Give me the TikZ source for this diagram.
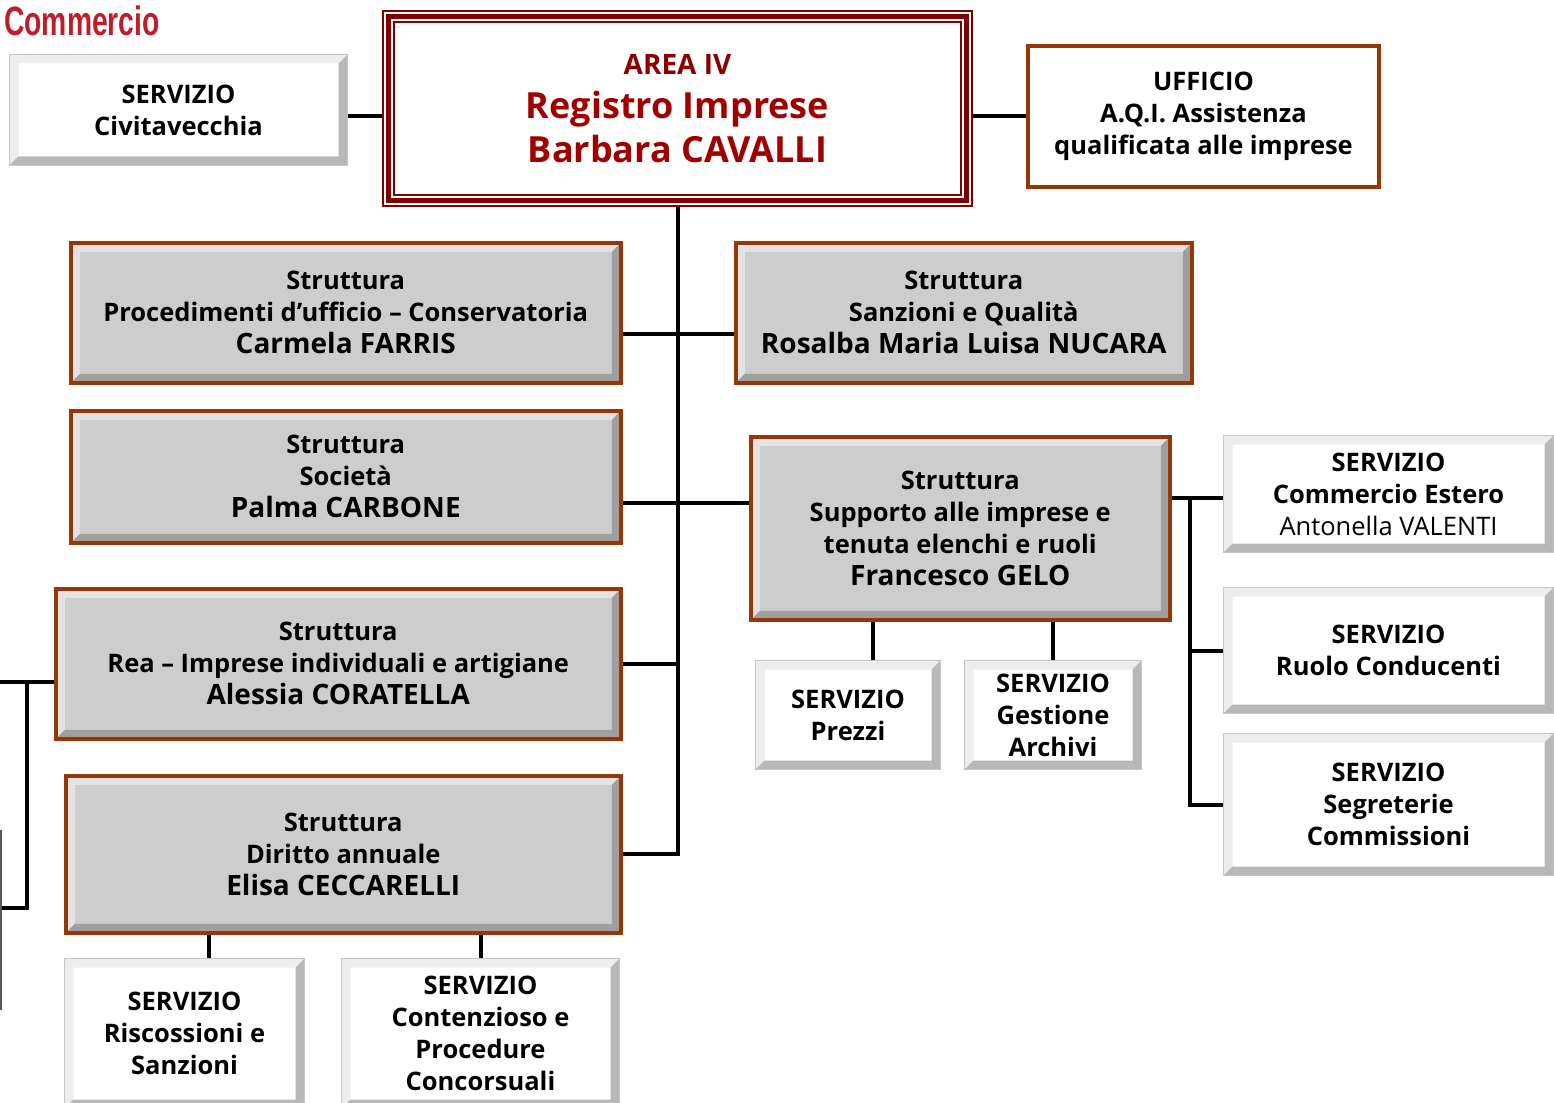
\documentclass[tikz,border=0pt]{standalone}
\usepackage{fontspec}
\setmainfont{Open Sans}
\newfontfamily\headfont{Liberation Sans}
\usepackage{tikz}
\definecolor{areared}{RGB}{128,0,0}
\definecolor{areatext}{RGB}{160,0,0}
\definecolor{boxbrown}{RGB}{150,55,10}
\definecolor{boxgray}{RGB}{205,205,205}
\definecolor{headred}{RGB}{190,30,40}

\begin{document}
\begin{tikzpicture}[x=1pt,y=-1pt,
    bevel/.style 2 args={path picture={
      \coordinate (nw) at (path picture bounding box.north west);
      \coordinate (ne) at (path picture bounding box.north east);
      \coordinate (sw) at (path picture bounding box.south west);
      \coordinate (se) at (path picture bounding box.south east);
      \fill[#1] (nw) -- (ne) -- ([shift={(-9pt,-9pt)}]ne) -- ([shift={(9pt,-9pt)}]nw) -- cycle;
      \fill[#1] (nw) -- (sw) -- ([shift={(9pt,9pt)}]sw) -- ([shift={(9pt,-9pt)}]nw) -- cycle;
      \fill[#2] (sw) -- (se) -- ([shift={(-9pt,9pt)}]se) -- ([shift={(9pt,9pt)}]sw) -- cycle;
      \fill[#2] (ne) -- (se) -- ([shift={(-9pt,9pt)}]se) -- ([shift={(-9pt,-9pt)}]ne) -- cycle;
    }},
    box/.style={rectangle,anchor=north west,align=center,inner sep=0pt,
      font=\bfseries\fontsize{25.5}{32}\selectfont},
    struttura/.style={box,fill=boxgray,draw=boxbrown,line width=3.5pt,
      bevel={white,opacity=.45}{black,opacity=.22}},
    servizio/.style={box,fill=white,draw=gray!45,line width=1pt,
      bevel={black,opacity=.07}{black,opacity=.28}},
    conn/.style={line width=4pt}]
  \useasboundingbox (0,0) rectangle (1554,1102);
  \clip (0,0) rectangle (1554,1102);

  \node[anchor=north west,inner sep=0pt,text=headred,
        font=\headfont\bfseries\fontsize{41}{43}\selectfont] (head) at (4,6)
        {\scalebox{0.69}[1]{Commercio}};

  % vertice
  \node[box,draw=areared,line width=2pt,minimum width=589pt,minimum height=195pt,
        text=areatext,font=\bfseries\fontsize{36}{44}\selectfont] (area) at (382,10)
        {{\fontsize{28}{40}\selectfont\color{areared!90!red}AREA IV}\\Registro Imprese\\Barbara CAVALLI};
  \draw[areared,line width=5pt] ([shift={(6.5pt,-6.5pt)}]area.north west) rectangle ([shift={(-6.5pt,6.5pt)}]area.south east);
  \draw[areared,line width=2pt] ([shift={(12pt,-12pt)}]area.north west) rectangle ([shift={(-12pt,12pt)}]area.south east);

  \node[servizio,minimum width=338pt,minimum height=111pt] (civ) at (9,54)
        {SERVIZIO\\Civitavecchia};
  \node[box,fill=white,draw=boxbrown,line width=4pt,minimum width=351pt,minimum height=141pt] (uff) at (1026,44)
        {UFFICIO\\A.Q.I. Assistenza\\qualificata alle imprese};

  % strutture
  \node[struttura,minimum width=550pt,minimum height=140pt] (farris) at (69,241)
        {Struttura\\Procedimenti d’ufficio – Conservatoria\\{\fontsize{28}{34}\selectfont Carmela FARRIS}};
  \node[struttura,minimum width=456pt,minimum height=140pt] (nucara) at (734,241)
        {Struttura\\Sanzioni e Qualità\\{\fontsize{28}{34}\selectfont Rosalba Maria Luisa NUCARA}};
  \node[struttura,minimum width=550pt,minimum height=132pt] (soc) at (69,409)
        {Struttura\\Società\\{\fontsize{28}{34}\selectfont Palma CARBONE}};
  \node[struttura,minimum width=419pt,minimum height=183pt] (supp) at (749,435)
        {Struttura\\Supporto alle imprese e\\tenuta elenchi e ruoli\\{\fontsize{28}{34}\selectfont Francesco GELO}};
  \node[struttura,minimum width=565pt,minimum height=150pt] (rea) at (54,587)
        {Struttura\\Rea – Imprese individuali e artigiane\\{\fontsize{28}{34}\selectfont Alessia CORATELLA}};
  \node[struttura,minimum width=555pt,minimum height=157pt] (dir) at (64,774)
        {Struttura\\Diritto annuale\\{\fontsize{28}{34}\selectfont Elisa CECCARELLI}};

  % servizi
  \node[servizio,minimum width=185pt,minimum height=109pt] (prezzi) at (755,660) {SERVIZIO\\Prezzi};
  \node[servizio,minimum width=177pt,minimum height=109pt] (gest) at (964,660) {SERVIZIO\\Gestione\\Archivi};
  \node[servizio,minimum width=330pt,minimum height=117pt] (estero) at (1223,435)
        {SERVIZIO\\Commercio Estero\\{\mdseries Antonella VALENTI}};
  \node[servizio,minimum width=330pt,minimum height=126pt] (ruolo) at (1223,587) {SERVIZIO\\Ruolo Conducenti};
  \node[servizio,minimum width=330pt,minimum height=142pt] (segr) at (1223,733) {SERVIZIO\\Segreterie\\Commissioni};
  \node[servizio,minimum width=240pt,minimum height=150pt] (risc) at (64,958) {SERVIZIO\\Riscossioni e\\Sanzioni};
  \node[servizio,minimum width=278pt,minimum height=150pt] (cont) at (341,958)
        {SERVIZIO\\Contenzioso e\\Procedure\\Concorsuali};

  \coordinate (j0) at (0,116);
  \coordinate (j1) at (677,334);
  \coordinate (j2) at (677,503);
  \coordinate (j3) at (1190,498);
  \coordinate (l1) at (0,682);
  \coordinate (l2) at (27,908);

  \draw[conn] (j0 -| civ.east) -- (j0 -| area.west);
  \draw[conn] (area.east |- uff.west) -- (uff.west);
  \draw[conn] (area.south) -- (area.south |- dir.east) -- (dir.east);
  \draw[conn] (j1 -| farris.east) -- (j1 -| nucara.west);
  \draw[conn] (j2 -| soc.east) -- (j2 -| supp.west);
  \draw[conn] (rea.east) -- (rea.east -| area.south);
  \draw[conn] ([xshift=25pt]prezzi.north) -- ([xshift=25pt]prezzi.north |- supp.south);
  \draw[conn] (gest.north) -- (gest.north |- supp.south);
  \draw[conn] (j3 -| supp.east) -- (j3 -| estero.west);
  \draw[conn] (j3) -- (j3 |- segr.west) -- (segr.west);
  \draw[conn] (j3 |- ruolo.west) -- (ruolo.west);
  \draw[conn] ([xshift=24pt]risc.north) -- ([xshift=24pt]risc.north |- dir.south);
  \draw[conn] (cont.north) -- (cont.north |- dir.south);
  \draw[conn] (rea.west |- l1) -- (l1);
  \draw[conn] (l1 -| l2) -- (l2) -- (l2 -| l1);
  \draw[gray!70!black,line width=2pt] (1,830) -- (1,1010);
\end{tikzpicture}
\end{document}
